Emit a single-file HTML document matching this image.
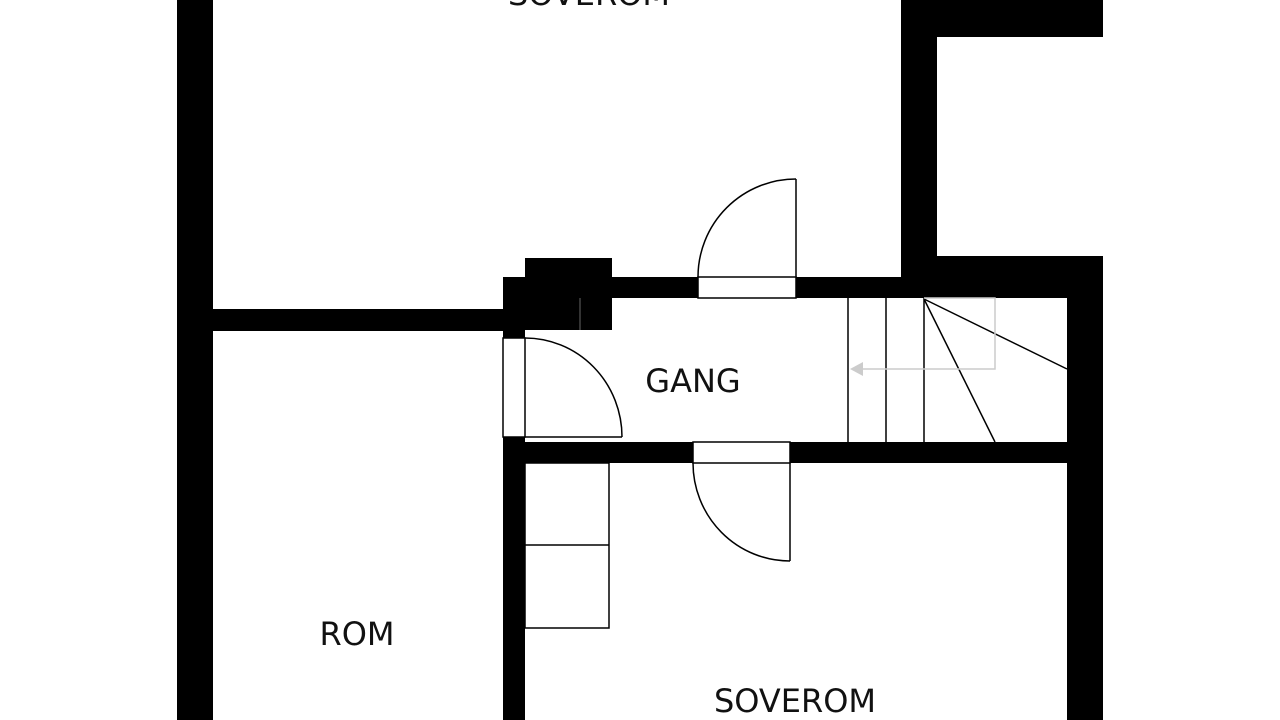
<!DOCTYPE html>
<html><head><meta charset="utf-8"><style>
html,body{margin:0;padding:0;background:#fff;}
svg{display:block}
text{font-family:"DejaVu Sans","Liberation Sans",sans-serif;font-size:32px;fill:#111;}
</style></head><body>
<svg width="1280" height="720" viewBox="0 0 1280 720" xmlns="http://www.w3.org/2000/svg">
<rect width="1280" height="720" fill="#fff"/>
<g fill="#000">
<rect x="177" y="0" width="36" height="720"/>
<rect x="213" y="309" width="292" height="22"/>
<rect x="503" y="277" width="109" height="53"/>
<rect x="525" y="258" width="87" height="20"/>
<rect x="503" y="277" width="22" height="61"/>
<rect x="612" y="277" width="86" height="21"/>
<rect x="796" y="277" width="141" height="21"/>
<rect x="901" y="0" width="36" height="298"/>
<rect x="901" y="0" width="202" height="37"/>
<rect x="937" y="256" width="166" height="42"/>
<rect x="1067" y="256" width="36" height="464"/>
<rect x="503" y="437" width="22" height="283"/>
<rect x="503" y="442" width="190" height="21"/>
<rect x="790" y="442" width="277" height="21"/>
</g>
<g fill="none" stroke="#000" stroke-width="1.5">
<line x1="580" y1="298" x2="580" y2="330" stroke="#444"/>
<rect x="698" y="277" width="98" height="21"/>
<rect x="503" y="338" width="22" height="99"/>
<rect x="693" y="442" width="97" height="21"/>
<line x1="796" y1="179" x2="796" y2="277"/>
<path d="M796 179 A98 98 0 0 0 698 277"/>
<line x1="525" y1="437" x2="622" y2="437"/>
<path d="M525 338 A97 99 0 0 1 622 437"/>
<line x1="790" y1="463" x2="790" y2="561"/>
<path d="M693 463 A97 98 0 0 0 790 561"/>
<rect x="525" y="463" width="84" height="165"/>
<line x1="525" y1="545" x2="609" y2="545"/>
<line x1="848" y1="298" x2="848" y2="442"/>
<line x1="886" y1="298" x2="886" y2="442"/>
<line x1="924" y1="298" x2="924" y2="442"/>
<line x1="924" y1="299" x2="1067" y2="369"/>
<line x1="924" y1="299" x2="995" y2="442"/>
</g>
<g stroke="#ccc" stroke-width="1.5" fill="none">
<polyline points="924,298 995,298 995,369 860,369"/>
</g>
<polygon points="850,369 863,362 863,376" fill="#ccc"/>
<text x="589" y="5" text-anchor="middle">SOVEROM</text>
<text x="693" y="392" text-anchor="middle">GANG</text>
<text x="357" y="645" text-anchor="middle">ROM</text>
<text x="795" y="712" text-anchor="middle">SOVEROM</text>
</svg>
</body></html>
